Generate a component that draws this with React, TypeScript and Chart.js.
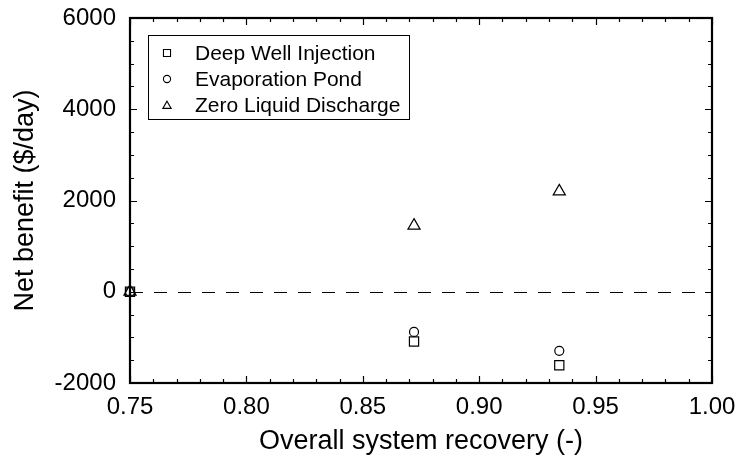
import React, { useEffect, useRef } from "react";
import { Chart, registerables } from "chart.js";

Chart.register(...registerables);

const seriesNames = ["Deep Well Injection", "Evaporation Pond", "Zero Liquid Discharge"];
const recovery = [0.75, 0.872, 0.9344];
const deepWell = [0, -1090, -1610];
const evapPond = [0, -880, -1295];
const zld = [0, 1450, 2200];
const xTicks = [0.75, 0.8, 0.85, 0.9, 0.95, 1.0];
const yTicks = [-2000, 0, 2000, 4000, 6000];

const FONT = "'Liberation Sans', Arial, sans-serif";

function marker(ctx: CanvasRenderingContext2D, style: string, r: number, x: number, y: number) {
  ctx.beginPath();
  if (style === "rect") {
    const s = r * Math.SQRT1_2;
    ctx.rect(x - s, y - s, 2 * s, 2 * s);
  } else if (style === "circle") {
    ctx.arc(x, y, r, 0, Math.PI * 2);
  } else {
    const a = Math.PI / 2;
    for (let k = 0; k < 3; k++) {
      const ang = -a + (k * 2 * Math.PI) / 3;
      const px = x + Math.cos(ang) * r;
      const py = y + Math.sin(ang) * r;
      if (k === 0) ctx.moveTo(px, py);
      else ctx.lineTo(px, py);
    }
    ctx.closePath();
  }
  ctx.stroke();
}

const framePlugin = {
  id: "frame",
  afterDraw(chart: any) {
    const { ctx, chartArea: a } = chart;
    const xs = chart.scales.x;
    const ys = chart.scales.y;
    ctx.save();
    ctx.strokeStyle = "#000";
    ctx.lineWidth = 1;
    ctx.setLineDash([13, 11]);
    const y0 = Math.round(ys.getPixelForValue(0)) + 0.5;
    ctx.beginPath();
    ctx.moveTo(a.left, y0);
    ctx.lineTo(a.right, y0);
    ctx.stroke();
    ctx.setLineDash([]);
    ctx.lineWidth = 1.2;
    ctx.beginPath();
    for (let i = 0; i <= 25; i++) {
      const v = 0.75 + i * 0.01;
      const px = Math.round(xs.getPixelForValue(v)) + 0.5;
      const len = i % 5 === 0 ? 7 : 4;
      ctx.moveTo(px, a.bottom);
      ctx.lineTo(px, a.bottom - len);
      ctx.moveTo(px, a.top);
      ctx.lineTo(px, a.top + len);
    }
    for (let i = 0; i <= 16; i++) {
      const v = -2000 + i * 500;
      const py = Math.round(ys.getPixelForValue(v)) + 0.5;
      const len = i % 4 === 0 ? 7 : 4;
      ctx.moveTo(a.left, py);
      ctx.lineTo(a.left + len, py);
      ctx.moveTo(a.right, py);
      ctx.lineTo(a.right - len, py);
    }
    ctx.stroke();
    ctx.lineWidth = 2.2;
    ctx.strokeRect(a.left, a.top, a.right - a.left, a.bottom - a.top);
    const lx = 148, ly = 35, lw = 261, lh = 84;
    ctx.lineWidth = 1;
    ctx.fillStyle = "#fff";
    ctx.fillRect(lx, ly, lw, lh);
    ctx.strokeRect(lx + 0.5, ly + 0.5, lw, lh);
    const styles = ["rect", "circle", "triangle"];
    const radii = [5, 3.6, 4.8];
    const rows = [53, 79, 105];
    ctx.font = `21px ${FONT}`;
    ctx.textBaseline = "middle";
    for (let i = 0; i < 3; i++) {
      ctx.strokeStyle = "#000";
      ctx.lineWidth = 1.1;
      marker(ctx, styles[i], radii[i], 167, rows[i] + (i === 2 ? 1 : 0));
      ctx.fillStyle = "#000";
      ctx.fillText(seriesNames[i], 195, rows[i] + 1);
    }
    ctx.restore();
  },
};

export default function App() {
  const ref = useRef<HTMLCanvasElement>(null);
  useEffect(() => {
    document.body.style.margin = "0";
    const mk = (label: string, ys: number[], style: string, r: number) => ({
      label,
      data: recovery.map((x, i) => ({ x, y: ys[i] })),
      pointStyle: style,
      pointRadius: r,
      pointBorderColor: "#000",
      pointBackgroundColor: "rgba(255,255,255,0)",
      pointBorderWidth: 1.2,
      showLine: false,
      clip: false,
    });
    const chart = new Chart(ref.current!, {
      type: "scatter",
      data: {
        datasets: [
          mk(seriesNames[0], deepWell, "rect", 6.5),
          mk(seriesNames[1], evapPond, "circle", 4.5),
          mk(seriesNames[2], zld, "triangle", 7),
        ],
      },
      options: {
        animation: false,
        responsive: false,
        layout: { padding: { top: 18, right: 26, left: 0, bottom: 0 } },
        plugins: { legend: { display: false }, tooltip: { enabled: false } },
        scales: {
          x: {
            type: "linear",
            min: 0.75,
            max: 1.0,
            afterBuildTicks: (s: any) => {
              s.ticks = xTicks.map((v) => ({ value: v }));
            },
            ticks: {
              color: "#000",
              font: { family: FONT, size: 24 },
              padding: 10,
              maxRotation: 0,
              callback: (v: any) => Number(v).toFixed(2),
            },
            grid: { display: false, drawTicks: false },
            border: { display: false },
            title: {
              display: true,
              text: "Overall system recovery (-)",
              color: "#000",
              font: { family: FONT, size: 27 },
              padding: { top: 0, bottom: 5 },
            },
            afterFit: (s: any) => {
              s.height = 80;
              s.paddingLeft = 0;
              s.paddingRight = 0;
            },
          },
          y: {
            type: "linear",
            min: -2000,
            max: 6000,
            afterBuildTicks: (s: any) => {
              s.ticks = yTicks.map((v) => ({ value: v }));
            },
            ticks: {
              color: "#000",
              font: { family: FONT, size: 24 },
              padding: 14,
              callback: (v: any) => String(v),
            },
            grid: { display: false, drawTicks: false },
            border: { display: false },
            title: {
              display: true,
              text: "Net benefit ($/day)",
              color: "#000",
              font: { family: FONT, size: 27 },
              padding: { top: 9, bottom: 0 },
            },
            afterFit: (s: any) => {
              s.width = 130;
              s.paddingTop = 0;
              s.paddingBottom = 0;
            },
          },
        },
      },
      plugins: [framePlugin],
    } as any);
    return () => chart.destroy();
  }, []);
  return <canvas ref={ref} width={738} height={463} style={{ display: "block" }} />;
}
